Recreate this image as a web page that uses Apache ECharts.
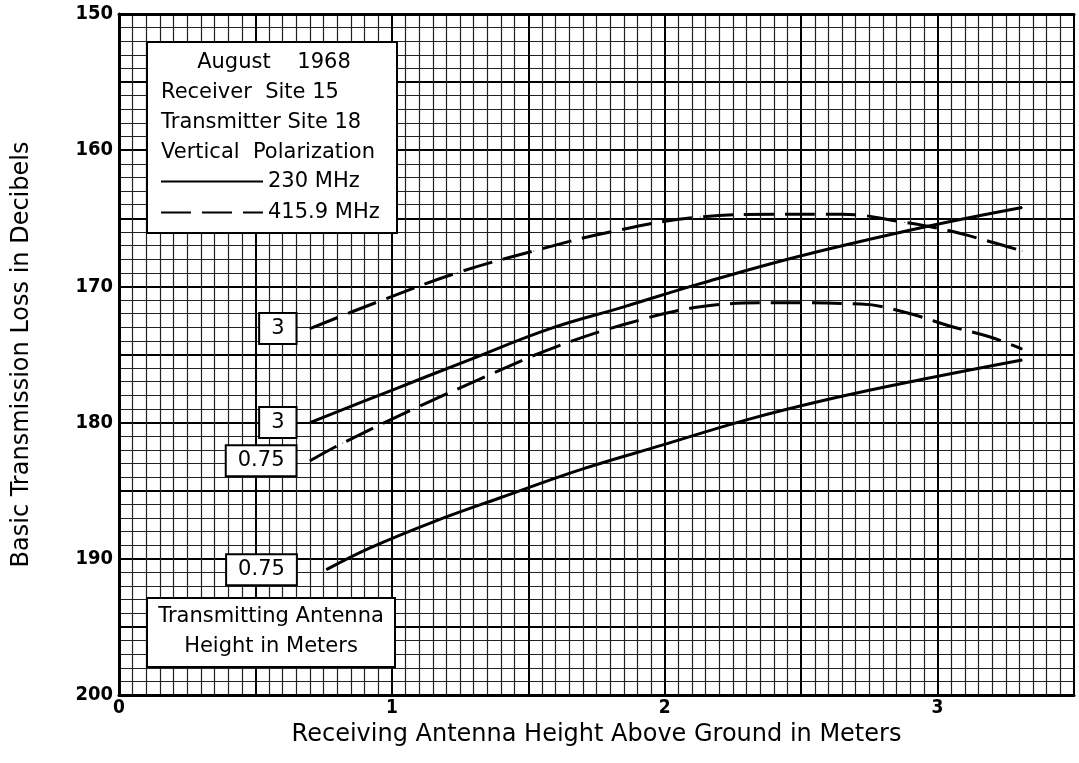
<!DOCTYPE html>
<html>
<head>
<meta charset="utf-8">
<script src="https://cdn.jsdelivr.net/npm/echarts@6/dist/echarts.min.js"></script>
<style>
  html, body { margin: 0; padding: 0; background: #fff; }
  #main { width: 1079px; height: 763px; }
</style>
</head>
<body>
<div id="main"></div>
<script>
// x = receiving antenna height (m), y = basic transmission loss (dB)
const solid3X = [0.70, 0.99, 1.27, 1.58, 1.85, 2.13, 2.49, 2.96, 3.31];
const solid3Y = [180.0, 177.7, 175.5, 173.1, 171.5, 169.8, 167.8, 165.6, 164.2];

const solid075X = [0.76, 0.92, 1.15, 1.40, 1.70, 2.00, 2.30, 2.62, 2.95, 3.31];
const solid075Y = [190.8, 189.2, 187.3, 185.5, 183.4, 181.6, 179.8, 178.2, 176.8, 175.4];

const dashed3X = [0.70, 0.94, 1.24, 1.52, 1.80, 2.13, 2.40, 2.65, 2.88, 3.04, 3.19, 3.31];
const dashed3Y = [173.1, 171.2, 169.0, 167.4, 166.0, 164.9, 164.7, 164.7, 165.3, 165.9, 166.7, 167.4];

const dashed075X = [0.70, 0.82, 1.08, 1.38, 1.58, 1.85, 2.13, 2.40, 2.72, 2.88, 3.06, 3.19, 3.31];
const dashed075Y = [182.8, 181.5, 179.0, 176.3, 174.6, 172.8, 171.5, 171.2, 171.3, 171.9, 173.0, 173.7, 174.6];

const xTickLabels = ["0", "1", "2", "3"];
const yTickLabels = ["150", "160", "170", "180", "190", "200"];

const infoLines = ["Receiver  Site 15", "Transmitter Site 18", "Vertical  Polarization"];

const FONT = "DejaVu Sans";
const NUM_FONT = "DejaVu Sans Condensed, Liberation Sans, sans-serif";

function pairs(xs, ys, tag, dist) {
  return xs.map((x, i) => {
    if (i > 0) return [x, ys[i]];
    return {
      value: [x, ys[i]],
      label: {
        show: true,
        position: "left",
        distance: dist,
        formatter: tag,
        color: "#000",
        fontFamily: FONT,
        fontSize: 21,
        lineHeight: 21,
        backgroundColor: "#fff",
        borderColor: "#000",
        borderWidth: 2,
        padding: [4, 11, 4, 11],
      },
    };
  });
}

function curve(name, xs, ys, tag, dist, dashed) {
  return {
    name: name,
    type: "line",
    smooth: 0.4,
    symbol: "circle",
    symbolSize: 1,
    showSymbol: true,
    itemStyle: { color: "#000" },
    lineStyle: { color: "#000", width: 3, type: dashed ? [30, 11] : "solid" },
    data: pairs(xs, ys, tag, dist),
    z: 5,
  };
}

function initChart(element) {
  const chart = echarts.init(element, null, { renderer: "canvas" });
  const option = {
    backgroundColor: "#fff",
    animation: false,
    grid: { left: 119, right: 5, top: 14, bottom: 68 },
    legend: {
      orient: "vertical",
      left: 160,
      top: 171,
      padding: 0,
      itemWidth: 102,
      itemHeight: 14,
      itemGap: 10,
      z: 120,
      data: ["230 MHz", "415.9 MHz"],
      itemStyle: { opacity: 0 },
      lineStyle: { width: 2 },
      textStyle: { fontFamily: FONT, fontSize: 21, color: "#000" },
    },
    xAxis: [
      {
        type: "value",
        min: 0,
        max: 3.5,
        interval: 0.5,
        name: "Receiving Antenna Height Above Ground in Meters",
        nameLocation: "middle",
        nameGap: 24,
        nameTextStyle: { fontFamily: FONT, fontSize: 24, color: "#000" },
        axisLine: { lineStyle: { color: "#000", width: 3 } },
        axisTick: { show: false },
        axisLabel: {
          margin: 4,
          fontFamily: NUM_FONT,
          fontWeight: "bold",
          fontSize: 19,
          color: "#000",
          formatter: (v) => (Number.isInteger(v) ? xTickLabels[v] : ""),
        },
        splitLine: { show: true, lineStyle: { color: "#000", width: 2 } },
        minorTick: { show: false, splitNumber: 10 },
        minorSplitLine: { show: true, lineStyle: { color: "#222", width: 1.2 } },
      },
      {
        type: "value",
        position: "top",
        min: 0,
        max: 3.5,
        axisLine: { show: true, lineStyle: { color: "#000", width: 3 } },
        axisTick: { show: false },
        axisLabel: { show: false },
        splitLine: { show: false },
      },
    ],
    yAxis: {
      type: "value",
      inverse: true,
      min: 150,
      max: 200,
      interval: 5,
      name: "Basic Transmission Loss in Decibels",
      nameLocation: "middle",
      nameGap: 85,
      nameTextStyle: { fontFamily: FONT, fontSize: 24, color: "#000" },
      axisLine: { lineStyle: { color: "#000", width: 3 } },
      axisTick: { show: false },
      axisLabel: {
        margin: 6,
        fontFamily: NUM_FONT,
        fontWeight: "bold",
        fontSize: 20,
        color: "#000",
        formatter: (v) => (v % 10 === 0 ? yTickLabels[(v - 150) / 10] : ""),
      },
      splitLine: { show: true, lineStyle: { color: "#000", width: 2 } },
      minorTick: { show: false, splitNumber: 5 },
      minorSplitLine: { show: true, lineStyle: { color: "#222", width: 1.2 } },
    },
    series: [
      curve("230 MHz", solid3X, solid3Y, "3", 14, false),
      curve("230 MHz", solid075X, solid075Y, "0.75", 30, false),
      curve("415.9 MHz", dashed3X, dashed3Y, "3", 14, true),
      curve("415.9 MHz", dashed075X, dashed075Y, "0.75", 14, true),
    ],
    graphic: [
      {
        type: "rect",
        z: 100,
        shape: { x: 147, y: 42, width: 250, height: 191 },
        style: { fill: "#fff", stroke: "#000", lineWidth: 2 },
      },
      {
        type: "text",
        z: 101,
        x: 274,
        y: 63,
        style: {
          text: "August    1968",
          fontFamily: FONT,
          fontSize: 21,
          fill: "#000",
          align: "center",
          verticalAlign: "middle",
        },
      },
      ...infoLines.map((t, i) => ({
        type: "text",
        z: 101,
        x: 161,
        y: 93 + i * 30,
        style: { text: t, fontFamily: FONT, fontSize: 21, fill: "#000", verticalAlign: "middle" },
      })),
      {
        type: "rect",
        z: 100,
        shape: { x: 147, y: 598, width: 248, height: 69 },
        style: { fill: "#fff", stroke: "#000", lineWidth: 2 },
      },
      {
        type: "text",
        z: 101,
        x: 271,
        y: 632,
        style: {
          text: "Transmitting Antenna\nHeight in Meters",
          fontFamily: FONT,
          fontSize: 21,
          lineHeight: 30,
          fill: "#000",
          align: "center",
          verticalAlign: "middle",
        },
      },
    ],
  };
  chart.setOption(option);
  return chart;
}

initChart(document.getElementById("main"));
</script>
</body>
</html>
